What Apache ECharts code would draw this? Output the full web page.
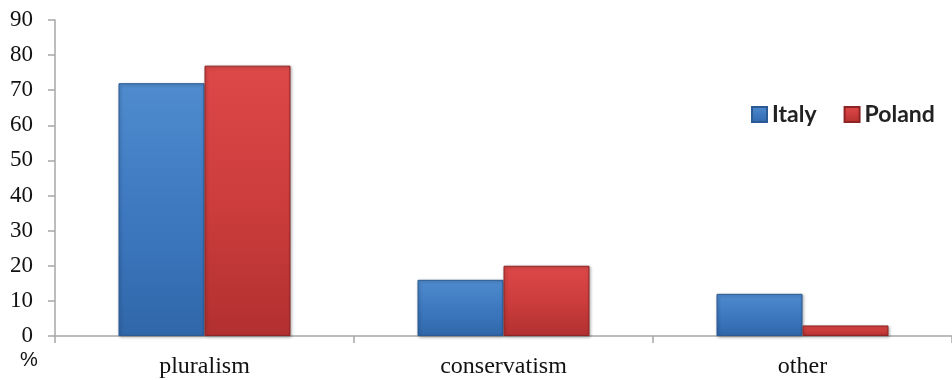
<!DOCTYPE html>
<html>
<head>
<meta charset="utf-8">
<script src="https://cdn.jsdelivr.net/npm/echarts@6/dist/echarts.min.js"></script>
<style>
  html, body { margin: 0; padding: 0; background: #fff; }
  #chart { width: 952px; height: 380px; }
</style>
</head>
<body>
<div id="chart"></div>
<script>
// Share of respondents by orientation, in percent
const categories = ['pluralism', 'conservatism', 'other'];
const italy = [72, 16, 12];
const poland = [77, 20, 3];
const yTicks = { min: 0, max: 90, interval: 10 };

const chart = echarts.init(document.getElementById('chart'));

// Bevelled bar look: light top, flat body, darker base, thin dark rim
function barStyle(top, mid, bottom, edge) {
  return {
    color: new echarts.graphic.LinearGradient(0, 0, 0, 1, [
      { offset: 0, color: top },
      { offset: 0.5, color: mid },
      { offset: 1, color: bottom }
    ]),
    borderColor: edge,
    borderWidth: 1,
    shadowColor: 'rgba(0,0,0,0.3)',
    shadowBlur: 3,
    shadowOffsetX: 1,
    shadowOffsetY: 1
  };
}

chart.setOption({
  animation: false,
  backgroundColor: '#ffffff',
  grid: { left: 55, right: 0, top: 20, bottom: 44 },
  legend: {
    left: 746,
    top: 98,
    itemWidth: 15,
    itemHeight: 15,
    itemGap: 27,
    icon: 'rect',
    textStyle: { fontFamily: 'Lato', fontWeight: 'bold', fontSize: 23, color: '#222' },
    data: ['Italy', 'Poland']
  },
  xAxis: {
    type: 'category',
    data: categories,
    axisLine: { lineStyle: { color: '#a6a6a6', width: 1.5 } },
    axisTick: { show: true, alignWithLabel: false, length: 7, lineStyle: { color: '#a6a6a6', width: 1.5 } },
    axisLabel: { fontFamily: 'Liberation Serif', fontSize: 24, color: '#111', margin: 19 }
  },
  yAxis: {
    type: 'value',
    min: yTicks.min,
    max: yTicks.max,
    interval: yTicks.interval,
    splitLine: { show: false },
    axisLine: { show: true, lineStyle: { color: '#a6a6a6', width: 1.5 } },
    axisTick: { show: true, length: 7, lineStyle: { color: '#a6a6a6', width: 1.5 } },
    axisLabel: { fontFamily: 'Liberation Serif', fontSize: 23, color: '#111', margin: 22 }
  },
  graphic: [{
    type: 'text',
    left: 20,
    top: 350,
    style: { text: '%', fontFamily: 'Liberation Sans', fontSize: 20, fill: '#111' }
  }],
  series: [
    {
      name: 'Italy',
      type: 'bar',
      data: italy,
      barWidth: 86,
      barGap: '0%',
      itemStyle: barStyle('#4f8bce', '#3e79c0', '#3067aa', '#2b5a94')
    },
    {
      name: 'Poland',
      type: 'bar',
      data: poland,
      barWidth: 86,
      barGap: '0%',
      itemStyle: barStyle('#dd4848', '#cd3d3d', '#b23030', '#8e2424')
    }
  ]
});
</script>
</body>
</html>
